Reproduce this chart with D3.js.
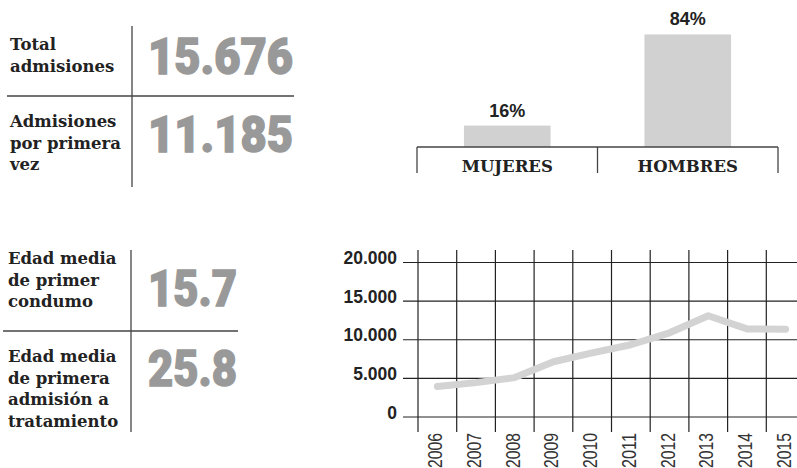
<!DOCTYPE html>
<html>
<head>
<meta charset="utf-8">
<script src="https://cdn.jsdelivr.net/npm/d3@7"></script>
<style>
  body { margin: 0; background: #fff; }
  svg { display: block; }
  .lbl { font-family: "DejaVu Serif", serif; font-weight: bold; font-size: 16.5px; fill: #222; }
  .big { font-family: "Roboto", "Inter", sans-serif; font-weight: 900; font-size: 50px; fill: #999; stroke: #999; stroke-width: 1.4; }
  .pct { font-family: "Liberation Sans", Arial, sans-serif; font-weight: bold; font-size: 18px; fill: #222; }
  .ytick { font-family: "Liberation Sans", Arial, sans-serif; font-weight: bold; font-size: 17.5px; fill: #222; }
  .xtick { font-family: "Liberation Sans Narrow", "Liberation Sans", Arial, sans-serif; font-size: 20px; fill: #333; }
</style>
</head>
<body>
<div id="chart"></div>
<script>
// Dimensions
const width = 797;
const height = 468;

// Data
const statLabels = [
    ["Total", "admisiones"],
    ["Admisiones", "por primera", "vez"],
    ["Edad media", "de primer", "condumo"],
    ["Edad media", "de primera", "admisión a", "tratamiento"]
];
const statValues = ["15.676", "11.185", "15.7", "25.8"];

const sexCategories = ["MUJERES", "HOMBRES"];
const sexValues = [16, 84];

const years = ["2006", "2007", "2008", "2009", "2010", "2011", "2012", "2013", "2014", "2015"];
const admissions = [3950, 4450, 5100, 7150, 8300, 9350, 10900, 13100, 11400, 11350];
const yTicks = [0, 5000, 10000, 15000, 20000];

const svg = d3.select("#chart")
    .append("svg")
    .attr("width", width)
    .attr("height", height);

// ---- Stat blocks ----
const blocks = [
    { lines: statLabels[0], value: statValues[0], tx: 10, ty: 50, vy: 74, vx: 293, w: 145 },
    { lines: statLabels[1], value: statValues[1], tx: 10, ty: 127, vy: 152, vx: 293, w: 145 },
    { lines: statLabels[2], value: statValues[2], tx: 8, ty: 264, vy: 306, vx: 237, w: 89 },
    { lines: statLabels[3], value: statValues[3], tx: 8, ty: 362, vy: 386, vx: 237, w: 89 }
];

blocks.forEach(b => {
    const t = svg.append("text").attr("class", "lbl").attr("x", b.tx).attr("y", b.ty);
    b.lines.forEach((l, i) => {
        t.append("tspan").attr("x", b.tx).attr("dy", i === 0 ? 0 : 21.7).text(l);
    });
    svg.append("text")
        .attr("class", "big")
        .attr("x", b.vx - b.w)
        .attr("y", b.vy)
        .attr("textLength", b.w)
        .attr("lengthAdjust", "spacingAndGlyphs")
        .text(b.value);
});

// dividers
const divider = "#444";
svg.append("line").attr("x1", 132).attr("x2", 132).attr("y1", 26).attr("y2", 187)
    .attr("stroke", divider).attr("stroke-width", 1.3);
svg.append("line").attr("x1", 7).attr("x2", 294).attr("y1", 96).attr("y2", 96)
    .attr("stroke", divider).attr("stroke-width", 1.3);
svg.append("line").attr("x1", 131).attr("x2", 131).attr("y1", 250).attr("y2", 432)
    .attr("stroke", divider).attr("stroke-width", 1.3);
svg.append("line").attr("x1", 3).attr("x2", 238).attr("y1", 331).attr("y2", 331)
    .attr("stroke", divider).attr("stroke-width", 1.3);

// ---- Bar chart ----
const xBar = d3.scaleBand().domain(sexCategories).range([417, 778]);
const yBar = d3.scaleLinear().domain([0, 100]).range([147, 13]);
const barW = xBar.bandwidth() * 0.48;

svg.selectAll(".bar")
    .data(sexValues)
    .enter().append("rect")
    .attr("class", "bar")
    .attr("x", (d, i) => xBar(sexCategories[i]) + (xBar.bandwidth() - barW) / 2)
    .attr("y", d => yBar(d))
    .attr("width", barW)
    .attr("height", d => yBar(0) - yBar(d))
    .attr("fill", "#d1d1d1");

svg.selectAll(".pct")
    .data(sexValues)
    .enter().append("text")
    .attr("class", "pct")
    .attr("x", (d, i) => xBar(sexCategories[i]) + xBar.bandwidth() / 2)
    .attr("y", d => yBar(d) - 9)
    .attr("text-anchor", "middle")
    .text(d => d + "%");

svg.append("line").attr("x1", 417).attr("x2", 778).attr("y1", yBar(0)).attr("y2", yBar(0))
    .attr("stroke", divider).attr("stroke-width", 1.3);
[...sexCategories.map(c => xBar(c)), 778].forEach(x => {
    svg.append("line").attr("x1", x).attr("x2", x).attr("y1", yBar(0)).attr("y2", 173)
        .attr("stroke", divider).attr("stroke-width", 1.3);
});
svg.selectAll(".cat")
    .data(sexCategories)
    .enter().append("text")
    .attr("class", "lbl")
    .attr("x", d => xBar(d) + xBar.bandwidth() / 2)
    .attr("y", 172)
    .attr("text-anchor", "middle")
    .text(d => d);

// ---- Line chart ----
const xLine = d3.scaleBand().domain(years).range([418, 805]);
const yLine = d3.scaleLinear().domain([0, 20000]).range([417, 262.5]);
const grid = "#222";

svg.selectAll(".hgrid")
    .data(yTicks)
    .enter().append("line")
    .attr("x1", 403).attr("x2", 797)
    .attr("y1", d => yLine(d)).attr("y2", d => yLine(d))
    .attr("stroke", grid).attr("stroke-width", 1.2);

svg.selectAll(".vgrid")
    .data(years)
    .enter().append("line")
    .attr("x1", d => xLine(d)).attr("x2", d => xLine(d))
    .attr("y1", 250).attr("y2", 432)
    .attr("stroke", grid).attr("stroke-width", 1.2);

svg.selectAll(".ytick")
    .data(yTicks)
    .enter().append("text")
    .attr("class", "ytick")
    .attr("x", 397)
    .attr("y", d => yLine(d) + 1.5)
    .attr("text-anchor", "end")
    .text(d => d === 0 ? "0" : d3.format(",")(d).replace(/,/g, "."));

svg.selectAll(".xtick")
    .data(years)
    .enter().append("text")
    .attr("class", "xtick")
    .attr("transform", d => `translate(${xLine(d) + xLine.bandwidth() / 2 + 5},433) rotate(-90)`)
    .attr("text-anchor", "end")
    .attr("textLength", 35)
    .attr("lengthAdjust", "spacingAndGlyphs")
    .text(d => d);

const line = d3.line()
    .x((d, i) => xLine(years[i]) + xLine.bandwidth() / 2)
    .y(d => yLine(d));

svg.append("path")
    .datum(admissions)
    .attr("d", line)
    .attr("fill", "none")
    .attr("stroke", "#d3d3d3")
    .attr("stroke-width", 7)
    .attr("stroke-linecap", "round")
    .attr("stroke-linejoin", "round");
</script>
</body>
</html>
